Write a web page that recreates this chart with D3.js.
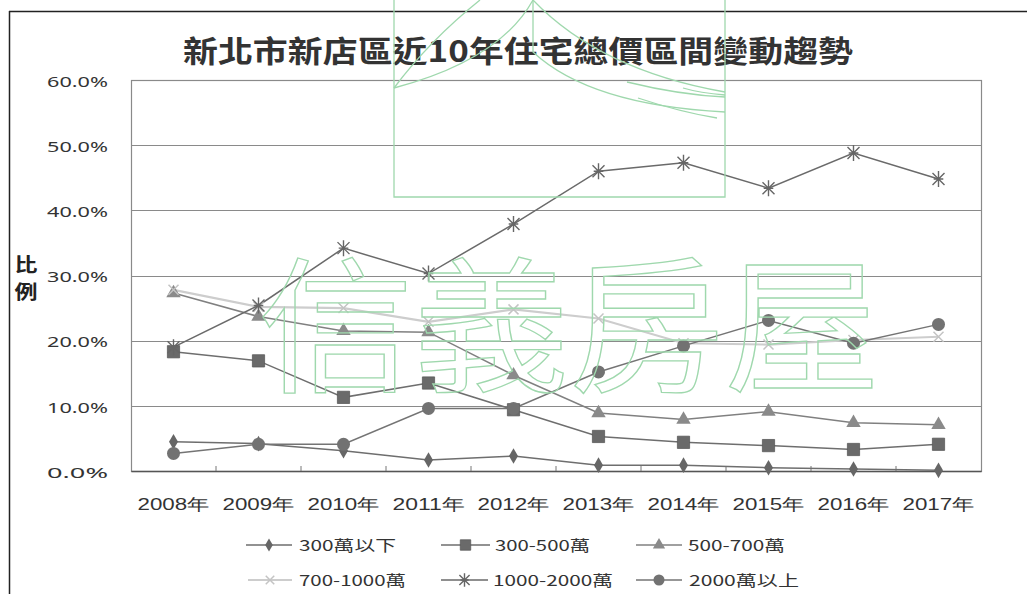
<!DOCTYPE html>
<html><head><meta charset="utf-8">
<script src="https://cdn.jsdelivr.net/npm/d3@7"></script>
<style>
html,body{margin:0;padding:0;background:#fff;}
svg{display:block;font-family:"Noto Sans CJK TC","Noto Sans",sans-serif;}
</style></head>
<body>
<script>
const years = ["2008年","2009年","2010年","2011年","2012年","2013年","2014年","2015年","2016年","2017年"];
const seriesNames = ["300萬以下","300-500萬","500-700萬","700-1000萬","1000-2000萬","2000萬以上"];
const under300 = [4.5, 4.2, 3.1, 1.7, 2.3, 0.9, 0.9, 0.5, 0.3, 0.1];
const r300to500 = [18.3, 16.9, 11.3, 13.5, 9.4, 5.3, 4.4, 3.9, 3.3, 4.1];
const r500to700 = [27.3, 23.7, 21.5, 21.3, 14.7, 8.9, 7.9, 9.1, 7.4, 7.1];
const r700to1000 = [27.8, 25.2, 25.0, 22.9, 24.8, 23.4, 19.6, 19.4, 20.1, 20.6];
const r1000to2000 = [19.0, 25.4, 34.2, 30.3, 37.9, 46.0, 47.3, 43.4, 48.8, 44.8];
const over2000 = [2.7, 4.1, 4.1, 9.6, 9.6, 15.2, 19.2, 23.1, 19.6, 22.5];
const yTicks = [0, 10, 20, 30, 40, 50, 60];
const titleText = "新北市新店區近10年住宅總價區間變動趨勢";
const yTitle = ["比", "例"];
const watermarkText = "信義房屋";

const allSeries = [under300, r300to500, r500to700, r700to1000, r1000to2000, over2000];
const styles = [
  {line:"#6e6e6e", w:1.5, marker:"diamond", fill:"#666"},
  {line:"#6e6e6e", w:1.5, marker:"square", fill:"#6a6a6a"},
  {line:"#808080", w:1.5, marker:"triangle", fill:"#8a8a8a"},
  {line:"#cdcdcd", w:2.2, marker:"x", fill:"#c4c4c4"},
  {line:"#6a6a6a", w:1.5, marker:"asterisk", fill:"#666"},
  {line:"#747474", w:1.5, marker:"circle", fill:"#727272"}
];

const W = 1027, H = 594;
const svg = d3.select("body").append("svg").attr("width", W).attr("height", H);

const plot = {left:131, right:981, top:80, bottom:471};
const x = d3.scaleBand().domain(years).range([plot.left, plot.right]);
const y = d3.scaleLinear().domain([0, 60]).range([plot.bottom, plot.top]);
const cx = d => x(d) + x.bandwidth()/2;

// outer frame
svg.append("line").attr("x1",9).attr("x2",W).attr("y1",11.5).attr("y2",11.5).attr("stroke","#222").attr("stroke-width",1.5);
svg.append("line").attr("x1",9.5).attr("x2",9.5).attr("y1",11).attr("y2",H).attr("stroke","#222").attr("stroke-width",1.5);

// title
svg.append("text").attr("x", 518).attr("y", 62).attr("text-anchor","middle")
  .attr("font-size", 30).attr("font-weight", 700).attr("fill","#333")
  .attr("textLength", 670).attr("lengthAdjust","spacingAndGlyphs").text(titleText);

// gridlines
svg.append("g").selectAll("line").data(yTicks.filter(t => t > 0 && t < 60)).join("line")
  .attr("x1", plot.left).attr("x2", plot.right)
  .attr("y1", d => Math.round(y(d))+0.5).attr("y2", d => Math.round(y(d))+0.5)
  .attr("stroke","#8a8a8a").attr("stroke-width",1);

// plot border
svg.append("rect").attr("x", plot.left+0.5).attr("y", plot.top+0.5)
  .attr("width", plot.right-plot.left).attr("height", plot.bottom-plot.top)
  .attr("fill","none").attr("stroke","#8a8a8a").attr("stroke-width",1.2);

// y axis labels via axis
const yAxis = d3.axisLeft(y).tickValues(yTicks).tickFormat(d => d3.format(".1f")(d) + "%").tickSize(0);
const gy = svg.append("g").attr("transform", `translate(${108},0)`).call(yAxis);
gy.select(".domain").remove();
gy.selectAll("text").attr("font-size", 15).attr("fill","#333").attr("x", 0).attr("dy","0.42em")
  .attr("font-family","'Noto Sans','DejaVu Sans',sans-serif")
  .attr("textLength", 61).attr("lengthAdjust","spacingAndGlyphs");

// x axis
const xAxis = d3.axisBottom(x).tickSize(0);
const gx = svg.append("g").attr("transform", `translate(0,${plot.bottom})`).call(xAxis);
gx.select(".domain").attr("stroke","#555").attr("stroke-width",1.5);
gx.selectAll("text").attr("font-size", 16).attr("fill","#333").attr("y", 39).attr("dy", 0)
  .attr("textLength", 72).attr("lengthAdjust","spacingAndGlyphs");
// small inward ticks at band boundaries
svg.append("g").selectAll("line").data(years.slice(1)).join("line")
  .attr("x1", d => x(d)).attr("x2", d => x(d))
  .attr("y1", plot.bottom).attr("y2", plot.bottom-5).attr("stroke","#777");

// y title
svg.append("g").selectAll("text").data(yTitle).join("text")
  .attr("x", 26).attr("y", (d,i) => 272 + i*27).attr("text-anchor","middle")
  .attr("font-size", 19).attr("font-weight", 700).attr("fill","#222")
  .attr("textLength", 23).attr("lengthAdjust","spacingAndGlyphs").text(d => d);

// marker drawer
function drawMarker(g, type, st, px, py, scale=1) {
  const s = scale;
  if (type === "diamond") {
    g.append("path").attr("d", d3.symbol(d3.symbolDiamond, 70*s*s)()).attr("transform",`translate(${px},${py})`).attr("fill", st.fill);
  } else if (type === "square") {
    g.append("path").attr("d", d3.symbol(d3.symbolSquare, 150*s*s)()).attr("transform",`translate(${px},${py})`).attr("fill", st.fill).attr("stroke","#5a5a5a").attr("stroke-width",0.8);
  } else if (type === "triangle") {
    g.append("path").attr("d", d3.symbol(d3.symbolTriangle, 90*s*s)()).attr("transform",`translate(${px},${py})`).attr("fill", st.fill);
  } else if (type === "circle") {
    g.append("circle").attr("cx", px).attr("cy", py).attr("r", 6.5*s).attr("fill", st.fill);
  } else if (type === "x") {
    const r = 5*s;
    g.append("path").attr("d", `M${px-r},${py-r}L${px+r},${py+r}M${px-r},${py+r}L${px+r},${py-r}`)
      .attr("stroke", st.fill).attr("stroke-width",1.5).attr("fill","none");
  } else if (type === "asterisk") {
    const r = 8*s, d = r*0.75;
    g.append("path").attr("d", `M${px},${py-r}L${px},${py+r}M${px-d},${py-d}L${px+d},${py+d}M${px-d},${py+d}L${px+d},${py-d}M${px-r*0.6},${py}L${px+r*0.6},${py}`)
      .attr("stroke", st.fill).attr("stroke-width",1.4).attr("fill","none");
  }
}

// lines
const lineGen = d3.line().x((d,i) => cx(years[i])).y(d => y(d));
const gLines = svg.append("g");
allSeries.forEach((vals, si) => {
  gLines.append("path").datum(vals).attr("d", lineGen).attr("fill","none")
    .attr("stroke", styles[si].line).attr("stroke-width", styles[si].w);
});
// markers
const gMarks = svg.append("g");
allSeries.forEach((vals, si) => {
  vals.forEach((v, i) => drawMarker(gMarks, styles[si].marker, styles[si], cx(years[i]), y(v)));
});

// legend
const legendPos = [
  {x1:246, x2:292, tx:299, y:545, tw:97},
  {x1:441, x2:490, tx:495, y:545, tw:95},
  {x1:636, x2:682, tx:688, y:545, tw:97},
  {x1:248, x2:292, tx:299, y:580, tw:107},
  {x1:441, x2:488, tx:493, y:580, tw:120},
  {x1:636, x2:682, tx:689, y:580, tw:110}
];
const gLeg = svg.append("g");
seriesNames.forEach((name, si) => {
  const p = legendPos[si], st = styles[si];
  gLeg.append("line").attr("x1", p.x1).attr("x2", p.x2).attr("y1", p.y).attr("y2", p.y)
    .attr("stroke", st.line).attr("stroke-width", st.w);
  drawMarker(gLeg, st.marker, st, (p.x1+p.x2)/2, p.y, 0.85);
  gLeg.append("text").attr("x", p.tx).attr("y", p.y+6).attr("font-size", 15).attr("fill","#333")
    .attr("textLength", p.tw).attr("lengthAdjust","spacingAndGlyphs").text(name);
});

// watermark
const wm = svg.append("g").attr("fill","none").attr("stroke","#9fd8ad").attr("stroke-width",1.3);
wm.append("path").attr("d","M394,0L394,197L725,197L725,0");
wm.append("path").attr("d","M394,88Q500,60 533,0");
wm.append("path").attr("d","M394,88Q430,40 480,0");
wm.append("path").attr("d","M533,0L533,52Q590,105 725,112");
wm.append("path").attr("d","M533,0Q600,70 725,92");
wm.append("path").attr("d","M627,82Q680,95 725,97");
wm.append("path").attr("d","M683,88Q700,93 725,95");
wm.append("path").attr("d","M638,98Q680,112 717,118");
svg.append("text").attr("x", 258).attr("y", 380).attr("font-size", 146)
  .attr("fill","none").attr("stroke","#9fd8ad").attr("stroke-width",1.3)
  .attr("textLength", 622).attr("lengthAdjust","spacingAndGlyphs").text(watermarkText);
</script>
</body></html>
